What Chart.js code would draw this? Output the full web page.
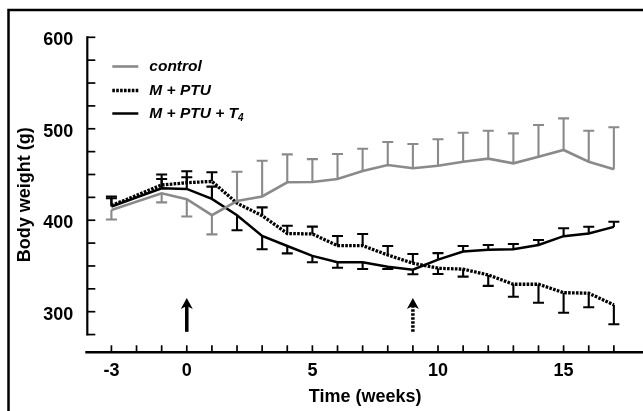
<!DOCTYPE html>
<html><head><meta charset="utf-8">
<script src="https://cdn.jsdelivr.net/npm/chart.js@4.4.0/dist/chart.umd.min.js"></script>
<style>html,body{margin:0;padding:0;background:#fff;overflow:hidden}</style>
</head><body>
<canvas id="c" width="643" height="411"></canvas>
<script>
// ---- data ----
const weeks = [-3,-1,0,1,2,3,4,5,6,7,8,9,10,11,12,13,14,15,16,17];
const seriesNames = ['control', 'M + PTU', 'M + PTU + T'];
const seriesSub = ['', '', '4'];

const controlMean    = [411.3,429.5,423,405.5,421,426,441.5,441.8,445.1,453.8,460.4,456.8,459.6,464,467.3,462.2,469.5,476.8,464,455.7];
const controlErrUp   = [0,0,0,0,32,39,30.5,25,27.3,24.4,25.1,26.5,28.9,31.7,30.6,32.8,34.6,34.6,33.9,45.9];
const controlErrDown = [10.5,10,19,21,0,0,0,0,0,0,0,0,0,0,0,0,0,0,0,0];

const ptuMean    = [416,438.5,441,442.5,418.6,405,385.5,385,372.2,372.2,362,353,347.5,346.5,340.2,330,330,320.8,320.2,307.5];
const ptuErrUp   = [10,11.5,12.5,10,0,9,8.5,8,10.6,12.8,9.8,10.1,0,0,0,0,0,0,0,0];
const ptuErrDown = [0,0,0,0,0,0,0,0,0,0,0,0,6.3,8.2,12,13.6,20.2,21.9,15.4,21.3];

const t4Mean    = [415,435,434.2,423.3,405.5,382.8,371.8,361,354,354,349.2,346,357,365.8,367.7,368.4,372.9,382.6,385.5,392.7];
const t4ErrUp   = [9,10,12.8,13.4,0,0,0,0,0,0,0,0,7,6,5.2,5.6,5.5,8.6,7.4,5.7];
const t4ErrDown = [0,0,0,0,16.5,14.6,8,7,5.9,7.3,2.6,5,0,0,0,0,0,0,0,0];

const xTickValues = [-3,0,5,10,15];
const xMinorTicks = [-3,-2,-1,0,1,2,3,4,5,6,7,8,9,10,11,12,13,14,15,16,17];
const yTickValues = [300,400,500,600];
const yMinorTicks = [275,300,325,350,375,400,425,450,475,500,525,550,575,600];
const arrowWeeks = [0, 9];
const arrowFrom = 278, arrowTo = 315;

// ---- styles ----
const GRAY = '#8a8a8a';
const FONT = 'Liberation Sans, Arial, sans-serif';
const styles = [
  {color: GRAY, width: 2.6, dash: []},
  {color: '#000', width: 3.3, dash: [2.6, 1.3]},
  {color: '#000', width: 2.5, dash: []}
];
const means = [controlMean, ptuMean, t4Mean];
const errsUp = [controlErrUp, ptuErrUp, t4ErrUp];
const errsDown = [controlErrDown, ptuErrDown, t4ErrDown];

const datasets = means.map((m, k) => ({
  label: seriesNames[k],
  data: weeks.map((w, i) => ({x: w, y: m[i]})),
  borderColor: styles[k].color,
  borderWidth: styles[k].width,
  borderDash: styles[k].dash,
  pointRadius: 0,
  tension: 0,
  fill: false
}));

const errorBars = {
  id: 'errorBars',
  beforeDatasetsDraw(chart) {
    const {ctx, scales: {x, y}} = chart;
    ctx.save();
    means.forEach((m, k) => {
      ctx.strokeStyle = styles[k].color;
      ctx.lineWidth = 2.1;
      ctx.setLineDash([]);
      weeks.forEach((w, i) => {
        const px = x.getPixelForValue(w);
        const py = y.getPixelForValue(m[i]);
        [[errsUp[k][i], 1], [errsDown[k][i], -1]].forEach(([e, s]) => {
          if (!e) return;
          const pe = y.getPixelForValue(m[i] + s * e);
          ctx.beginPath();
          ctx.moveTo(px, py); ctx.lineTo(px, pe);
          ctx.moveTo(px - 5.5, pe); ctx.lineTo(px + 5.5, pe);
          ctx.stroke();
        });
      });
    });
    ctx.restore();
  }
};

const axesAndDecor = {
  id: 'axesAndDecor',
  afterDraw(chart) {
    const {ctx, scales: {x, y}, chartArea} = chart;
    ctx.save();
    ctx.strokeStyle = '#000';
    ctx.fillStyle = '#000';
    ctx.setLineDash([]);
    // frame
    ctx.lineWidth = 2.5;
    ctx.strokeRect(8.5, 10, 700, 500);
    // y axis
    ctx.lineWidth = 2.2;
    const ax = chartArea.left;
    ctx.beginPath();
    ctx.moveTo(ax, y.getPixelForValue(yMinorTicks[0]) + 1);
    ctx.lineTo(ax, y.getPixelForValue(yMinorTicks[yMinorTicks.length - 1]) - 1);
    ctx.stroke();
    ctx.lineWidth = 1.7;
    yMinorTicks.forEach(v => {
      const py = y.getPixelForValue(v);
      ctx.beginPath(); ctx.moveTo(ax, py); ctx.lineTo(ax + 8, py); ctx.stroke();
    });
    // x axis
    const ay = chartArea.bottom;
    ctx.lineWidth = 2.4;
    ctx.beginPath(); ctx.moveTo(ax - 2, ay); ctx.lineTo(chartArea.right + 2, ay); ctx.stroke();
    ctx.lineWidth = 1.7;
    xMinorTicks.forEach(v => {
      const px = x.getPixelForValue(v);
      ctx.beginPath(); ctx.moveTo(px, ay); ctx.lineTo(px, ay - 7); ctx.stroke();
    });
    // arrows
    arrowWeeks.forEach((w, i) => {
      const px = x.getPixelForValue(w);
      const p0 = y.getPixelForValue(arrowFrom);
      const p1 = y.getPixelForValue(arrowTo);
      ctx.lineWidth = 3.5;
      ctx.setLineDash(i === 1 ? [2.6, 1.4] : []);
      ctx.beginPath(); ctx.moveTo(px, p0); ctx.lineTo(px, p1 + 8); ctx.stroke();
      ctx.setLineDash([]);
      ctx.beginPath();
      ctx.moveTo(px, p1);
      ctx.lineTo(px + 6, p1 + 11);
      ctx.lineTo(px, p1 + 8);
      ctx.lineTo(px - 6, p1 + 11);
      ctx.closePath();
      ctx.fill();
    });
    // legend
    const lx0 = chartArea.left + 25, lx1 = chartArea.left + 51, tx = chartArea.left + 62;
    const ly = [66.5, 90.5, 113.5];
    styles.forEach((s, k) => {
      ctx.strokeStyle = s.color;
      ctx.lineWidth = s.width;
      ctx.setLineDash(s.dash);
      ctx.beginPath(); ctx.moveTo(lx0, ly[k]); ctx.lineTo(lx1, ly[k]); ctx.stroke();
      ctx.setLineDash([]);
      ctx.fillStyle = '#000';
      ctx.font = 'italic bold 15.5px ' + FONT;
      ctx.textBaseline = 'middle';
      ctx.textAlign = 'left';
      ctx.fillText(seriesNames[k], tx, ly[k]);
      if (seriesSub[k]) {
        const w = ctx.measureText(seriesNames[k]).width;
        ctx.font = 'italic bold 10px ' + FONT;
        ctx.fillText(seriesSub[k], tx + w, ly[k] + 5);
      }
    });
    ctx.restore();
  }
};

const tickFont = {family: FONT, size: 18, weight: 'bold'};
new Chart(document.getElementById('c'), {
  type: 'line',
  data: {datasets},
  options: {
    responsive: false,
    animation: false,
    layout: {padding: {left: 0, top: 37.3, right: 0, bottom: 0}},
    plugins: {legend: {display: false}, tooltip: {enabled: false}},
    scales: {
      x: {
        type: 'linear', min: -3.96, max: 18.16,
        grid: {display: false, drawTicks: false},
        border: {display: false},
        afterBuildTicks: s => { s.ticks = xTickValues.map(v => ({value: v})); },
        afterFit: s => { s.height = 58.7; },
        ticks: {font: tickFont, color: '#000', padding: 8.2, maxRotation: 0, autoSkip: false, callback: v => String(v)},
        title: {display: true, text: 'Time (weeks)', color: '#000', font: {family: FONT, size: 18, weight: 'bold'}, padding: {top: 0, bottom: 3.2}}
      },
      y: {
        type: 'linear', min: 255.6, max: 600,
        grid: {display: false, drawTicks: false},
        border: {display: false},
        afterBuildTicks: s => { s.ticks = yTickValues.map(v => ({value: v})); },
        afterFit: s => { s.width = 87.3; },
        ticks: {font: tickFont, color: '#000', padding: 14, labelOffset: 3, autoSkip: false, callback: v => String(v)},
        title: {display: true, text: 'Body weight (g)', color: '#000', font: {family: FONT, size: 18, weight: 'bold'}, padding: {top: 14.7, bottom: 0}}
      }
    }
  },
  plugins: [errorBars, axesAndDecor]
});
</script>
</body></html>
